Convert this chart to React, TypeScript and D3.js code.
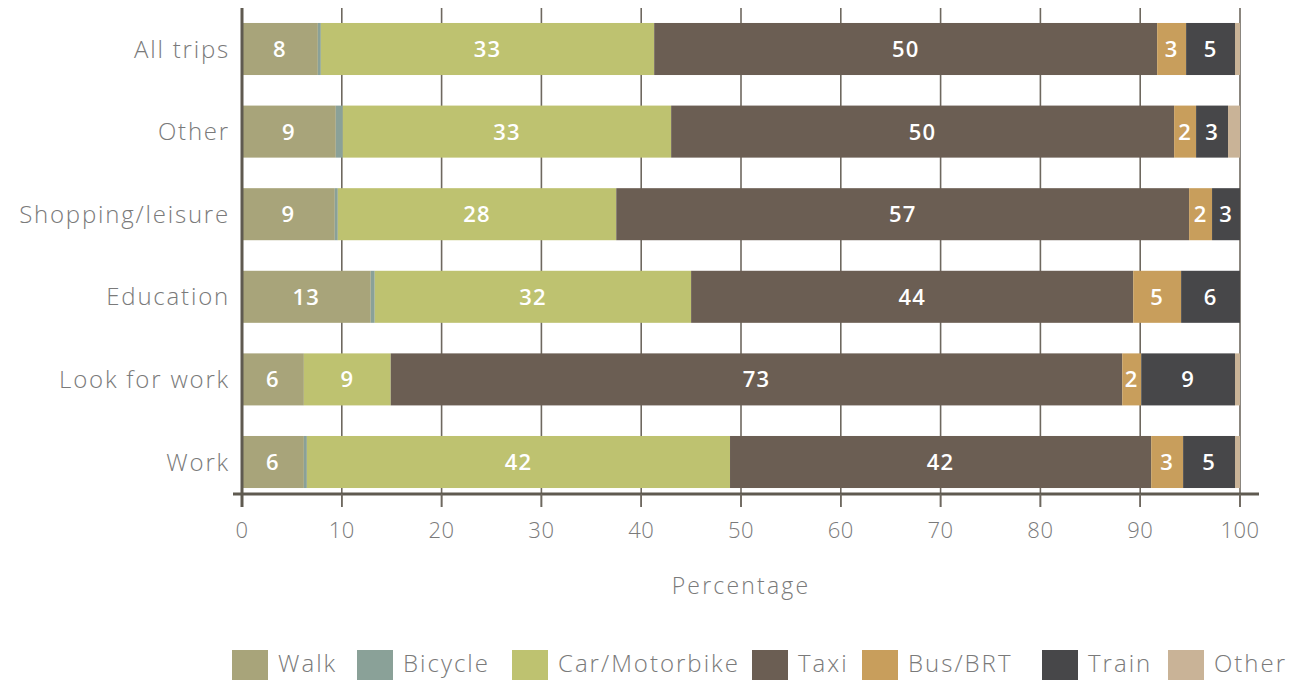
import * as d3 from "d3";

const CATEGORIES = ["All trips", "Other", "Shopping/leisure", "Education", "Look for work", "Work"];
const MODES = ["Walk", "Bicycle", "Car/Motorbike", "Taxi", "Bus/BRT", "Train", "Other"];

// share of trips per mode, one array per mode, in CATEGORIES order
const walk = [7.6, 9.4, 9.3, 12.9, 6.2, 6.2];
const bicycle = [0.3, 0.7, 0.3, 0.4, 0, 0.3];
const carMotorbike = [33.4, 32.9, 27.9, 31.7, 8.7, 42.4];
const taxi = [50.4, 50.4, 57.4, 44.3, 73.3, 42.2];
const busBrt = [2.9, 2.2, 2.3, 4.8, 1.9, 3.2];
const train = [4.9, 3.2, 2.8, 5.9, 9.4, 5.2];
const otherMode = [0.5, 1.2, 0, 0, 0.5, 0.5];

const X_TICKS = [0, 10, 20, 30, 40, 50, 60, 70, 80, 90, 100];

const COLORS = ["#a8a47a", "#8aa198", "#bec270", "#6b5e53", "#c89e5c", "#474749", "#c9b397"];

const W = 1303;
const H = 680;
const FONT = "'Open Sans', Lato, sans-serif";
const TEXT = "#7a7a7a";

export default function App() {
  const series = [walk, bicycle, carMotorbike, taxi, busBrt, train, otherMode];
  const rows = CATEGORIES.map((cat, i) => {
    const row: Record<string, number | string> = { cat };
    MODES.forEach((m, j) => (row[m] = series[j][i]));
    return row;
  });
  const stacked = d3.stack<Record<string, number | string>>().keys(MODES)(rows as any);

  const x = d3.scaleLinear().domain([0, 100]).range([242, 1240]);
  const y = d3.scaleBand().domain(CATEGORIES).range([7.7, 503.3]).paddingInner(0.37).paddingOuter(0.185);

  const axisY = 494;
  const gridTop = 8;
  const gridBottom = 507;

  const legendX = [232, 357, 512, 752, 862, 1042, 1168];

  return (
    <svg width={W} height={H} style={{ position: "fixed", left: 0, top: 0 }} fontFamily={FONT}>
      <rect width={W} height={H} fill="#fff" />
      {/* gridlines */}
      {X_TICKS.filter(t => t > 0).map(t => (
        <line key={t} x1={x(t)} x2={x(t)} y1={gridTop} y2={gridBottom} stroke="#6e685f" strokeWidth={1.6} />
      ))}
      {/* bars */}
      {stacked.map((layer, j) =>
        layer.map((d, i) => {
          const w = x(d[1]) - x(d[0]);
          if (w <= 0) return null;
          return (
            <rect
              key={`${j}-${i}`}
              x={x(d[0])}
              y={y(CATEGORIES[i])}
              width={w}
              height={y.bandwidth()}
              fill={COLORS[j]}
            />
          );
        })
      )}
      {/* value labels */}
      {stacked.map((layer, j) =>
        layer.map((d, i) => {
          const v = d[1] - d[0];
          if (v < 1.5) return null;
          return (
            <text
              key={`l-${j}-${i}`}
              x={x((d[0] + d[1]) / 2)}
              y={(y(CATEGORIES[i]) ?? 0) + y.bandwidth() / 2}
              dy="0.36em"
              textAnchor="middle"
              fill="#fff"
              fontSize={22}
              fontWeight={600}
              letterSpacing={1.2}
            >
              {Math.round(v)}
            </text>
          );
        })
      )}
      {/* x axis */}
      <line x1={233} x2={1259} y1={axisY} y2={axisY} stroke="#5f5a50" strokeWidth={3} />
      {X_TICKS.map(t => (
        <line key={`t${t}`} x1={x(t)} x2={x(t)} y1={axisY} y2={gridBottom} stroke="#6e685f" strokeWidth={1.6} />
      ))}
      {/* y axis */}
      <line x1={242} x2={242} y1={gridTop} y2={gridBottom} stroke="#5f5a50" strokeWidth={3} />
      {X_TICKS.map(t => (
        <text key={`xl${t}`} x={x(t)} y={530} dy="0.36em" textAnchor="middle" fill={TEXT} fontSize={22} fontWeight={300} letterSpacing={0.5}>
          {t}
        </text>
      ))}
      <text x={x(50)} y={586} dy="0.36em" textAnchor="middle" fill={TEXT} fontSize={23} fontWeight={300} letterSpacing={2.2}>
        Percentage
      </text>
      {CATEGORIES.map(c => (
        <text
          key={c}
          x={230}
          y={(y(c) ?? 0) + y.bandwidth() / 2}
          dy="0.36em"
          textAnchor="end"
          fill={TEXT}
          fontSize={24}
          fontWeight={300}
          letterSpacing={1.8}
        >
          {c}
        </text>
      ))}
      {/* legend */}
      {MODES.map((m, j) => (
        <g key={`lg${m}`} transform={`translate(${legendX[j]},650)`}>
          <rect width={36} height={32} fill={COLORS[j]} />
          <text x={46} y={13} dy="0.36em" fill={TEXT} fontSize={24} fontWeight={300} letterSpacing={2}>
            {m}
          </text>
        </g>
      ))}
    </svg>
  );
}
